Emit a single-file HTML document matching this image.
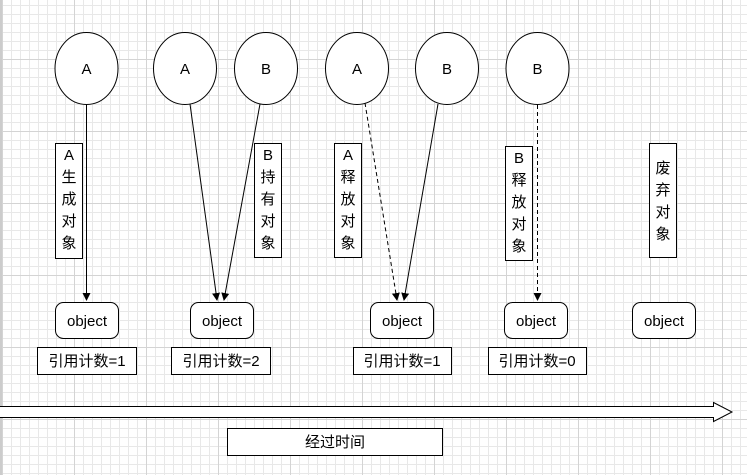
<!DOCTYPE html>
<html><head><meta charset="utf-8"><style>
html,body{margin:0;padding:0;background:#fff;}
svg{display:block;}
text{font-family:"Liberation Sans","Noto Sans CJK SC",sans-serif;font-size:15px;fill:#000;}
</style></head><body>
<svg width="747" height="475" viewBox="0 0 747 475" xmlns="http://www.w3.org/2000/svg">
<defs>
<pattern id="minor" x="2" y="5" width="9" height="9" patternUnits="userSpaceOnUse">
<rect x="0" y="0" width="9" height="1" fill="#e8e8e8"/>
<rect x="0" y="0" width="1" height="9" fill="#e8e8e8"/>
</pattern>
<pattern id="major" x="2" y="59" width="72" height="72" patternUnits="userSpaceOnUse">
<rect x="0" y="0" width="72" height="1" fill="#d4d4d4"/>
<rect x="0" y="0" width="1" height="72" fill="#d4d4d4"/>
</pattern>
<marker id="ar" markerWidth="8" markerHeight="10" refX="7" refY="5" orient="auto" markerUnits="userSpaceOnUse">
<path d="M0 1L8 5L0 9Z" fill="#000"/>
</marker>
</defs>
<rect width="747" height="475" fill="url(#minor)"/>
<rect width="747" height="475" fill="url(#major)"/>
<rect x="0" y="0" width="2" height="475" fill="#ccc"/>

<g fill="#fff" stroke="#000" stroke-width="1">
<ellipse cx="86.5" cy="68.5" rx="31.5" ry="36"/>
<ellipse cx="185" cy="68.5" rx="31.5" ry="36"/>
<ellipse cx="266" cy="68.5" rx="31.5" ry="36"/>
<ellipse cx="357" cy="68.5" rx="31.5" ry="36"/>
<ellipse cx="447" cy="68.5" rx="31.5" ry="36"/>
<ellipse cx="537.5" cy="68.5" rx="31.5" ry="36"/>
</g>
<g text-anchor="middle">
<text x="86.5" y="74">A</text>
<text x="185" y="74">A</text>
<text x="266" y="74">B</text>
<text x="357" y="74">A</text>
<text x="447" y="74">B</text>
<text x="537.5" y="74">B</text>
</g>

<g stroke="#000" stroke-width="1" fill="none">
<line x1="86.5" y1="105" x2="86.5" y2="300" marker-end="url(#ar)"/>
<line x1="190" y1="104" x2="217" y2="300" marker-end="url(#ar)"/>
<line x1="260" y1="104" x2="224" y2="300" marker-end="url(#ar)"/>
<line x1="365" y1="103" x2="397" y2="300" stroke-dasharray="4 3" marker-end="url(#ar)"/>
<line x1="438" y1="104" x2="404" y2="300" marker-end="url(#ar)"/>
<line x1="537.5" y1="105" x2="537.5" y2="300" stroke-dasharray="4 3" marker-end="url(#ar)"/>
</g>

<g fill="#fff" stroke="#000" stroke-width="1">
<rect x="55.5" y="143.5" width="27" height="115"/>
<rect x="254.5" y="143.5" width="27" height="114"/>
<rect x="334.5" y="143.5" width="27" height="114"/>
<rect x="505.5" y="146.5" width="27" height="114"/>
<rect x="649.5" y="143.5" width="27" height="114"/>
</g>
<g text-anchor="middle">
<text x="69" y="160">A</text><text x="69" y="182">生</text><text x="69" y="204">成</text><text x="69" y="226">对</text><text x="69" y="248">象</text>
<text x="268" y="160">B</text><text x="268" y="182">持</text><text x="268" y="204">有</text><text x="268" y="226">对</text><text x="268" y="248">象</text>
<text x="348" y="160">A</text><text x="348" y="182">释</text><text x="348" y="204">放</text><text x="348" y="226">对</text><text x="348" y="248">象</text>
<text x="519" y="163">B</text><text x="519" y="185">释</text><text x="519" y="207">放</text><text x="519" y="229">对</text><text x="519" y="251">象</text>
<text x="663" y="173">废</text><text x="663" y="195">弃</text><text x="663" y="217">对</text><text x="663" y="239">象</text>
</g>

<g fill="#fff" stroke="#000" stroke-width="1">
<rect x="55.5" y="302.5" width="63" height="36" rx="8"/>
<rect x="190.5" y="302.5" width="63" height="36" rx="8"/>
<rect x="370.5" y="302.5" width="63" height="36" rx="8"/>
<rect x="504.5" y="302.5" width="63" height="36" rx="8"/>
<rect x="632.5" y="302.5" width="63" height="36" rx="8"/>
<rect x="37.5" y="347.5" width="99" height="27"/>
<rect x="171.5" y="347.5" width="99" height="27"/>
<rect x="353.5" y="347.5" width="98" height="27"/>
<rect x="488.5" y="347.5" width="98" height="27"/>
<rect x="227.5" y="428.5" width="215" height="27"/>
</g>
<g text-anchor="middle">
<text x="87" y="326">object</text>
<text x="222" y="326">object</text>
<text x="402" y="326">object</text>
<text x="536" y="326">object</text>
<text x="664" y="326">object</text>
<text x="87" y="366">引用计数=1</text>
<text x="221" y="366">引用计数=2</text>
<text x="402" y="366">引用计数=1</text>
<text x="537" y="366">引用计数=0</text>
<text x="335" y="447">经过时间</text>
</g>

<path d="M0 406.5H713.5V402.5L732 412L713.5 421.5V417.5H0" fill="#fff" stroke="#000" stroke-width="1"/>
</svg>
</body></html>
